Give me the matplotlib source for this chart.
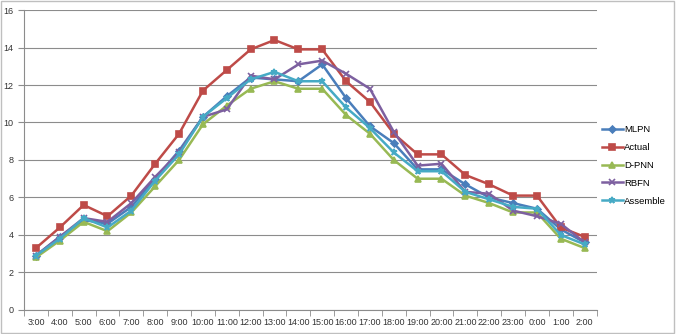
import matplotlib.pyplot as plt
import numpy as np

plt.rcParams['font.family'] = ['Liberation Sans', 'DejaVu Sans']

# Datos
horas = ['3:00', '4:00', '5:00', '6:00', '7:00', '8:00', '9:00', '10:00', '11:00',
         '12:00', '13:00', '14:00', '15:00', '16:00', '17:00', '18:00', '19:00',
         '20:00', '21:00', '22:00', '23:00', '0:00', '1:00', '2:00']

mlpn     = [2.9, 3.9, 4.8, 4.6, 5.5, 7.0, 8.5, 10.3, 11.4, 12.4, 12.3, 12.2,
            13.1, 11.3, 9.8, 8.9, 7.5, 7.5, 6.7, 6.0, 5.7, 5.4, 4.3, 3.6]
actual   = [3.3, 4.4, 5.6, 5.0, 6.1, 7.8, 9.4, 11.7, 12.8, 13.9, 14.4, 13.9,
            13.9, 12.2, 11.1, 9.4, 8.3, 8.3, 7.2, 6.7, 6.1, 6.1, 4.4, 3.9]
dpnn     = [2.8, 3.7, 4.7, 4.2, 5.2, 6.6, 8.0, 9.9, 10.9, 11.8, 12.2, 11.8,
            11.8, 10.4, 9.4, 8.0, 7.0, 7.0, 6.1, 5.7, 5.2, 5.2, 3.8, 3.3]
rbfn     = [2.9, 3.9, 4.9, 4.7, 5.7, 7.1, 8.4, 10.3, 10.7, 12.5, 12.3, 13.1,
            13.3, 12.6, 11.8, 9.5, 7.7, 7.8, 6.3, 6.2, 5.3, 5.0, 4.6, 3.6]
assemble = [2.9, 3.8, 4.9, 4.4, 5.3, 6.9, 8.3, 10.3, 11.3, 12.3, 12.7, 12.2,
            12.2, 10.8, 9.7, 8.4, 7.4, 7.4, 6.3, 5.9, 5.5, 5.4, 4.0, 3.5]

series = [
    ('MLPN',     mlpn,     '#4A7EBB', 'D', 3.5),
    ('Actual',   actual,   '#BE4B48', 's', 5),
    ('D-PNN',    dpnn,     '#98B954', '^', 5),
    ('RBFN',     rbfn,     '#7D60A0', 'x', 5),
    ('Assemble', assemble, '#46AAC5', '*', 5),
]

fig = plt.figure(figsize=(6.76, 3.34), dpi=100, facecolor='white')
ax = fig.add_axes([0.0355, 0.072, 0.847, 0.898])

x = np.arange(len(horas))
for nombre, vals, cor, mk, ms in series:
    ax.plot(x, vals, color=cor, linewidth=1.8, marker=mk, markersize=ms,
            markeredgecolor=cor, markeredgewidth=1.2, label=nombre)

ax.set_xlim(-0.5, len(horas) - 0.5)
ax.set_ylim(0, 16)
ax.set_yticks(range(0, 17, 2))
ax.yaxis.grid(True, color='#8c8c8c', linewidth=0.8)
ax.set_axisbelow(True)

ax.set_xticks(x)
ax.set_xticklabels(horas, fontsize=6.5, color='#333333')
ax.set_xticks(np.arange(-0.5, len(horas), 1), minor=True)
ax.tick_params(axis='x', which='major', length=0, pad=6)
ax.tick_params(axis='x', which='minor', length=4, color='#8c8c8c')
ax.tick_params(axis='y', labelsize=6.5, colors='#333333', length=4)
ax.tick_params(axis='y', color='#8c8c8c')

for s in ['top', 'right']:
    ax.spines[s].set_visible(False)
ax.spines['left'].set_color('#8c8c8c')
ax.spines['bottom'].set_color('#8c8c8c')

fig.legend(loc='center left', bbox_to_anchor=(0.885, 0.505), frameon=False,
           fontsize=6.8, handlelength=2.2, handletextpad=0.1, labelspacing=0.95,
           borderaxespad=0)

# borde del gráfico
fig.patches.append(plt.Rectangle((0.002, 0.004), 0.995, 0.992, transform=fig.transFigure,
                                 fill=False, edgecolor='#bfbfbf', linewidth=1))

plt.savefig('out.png', dpi=100, facecolor='white')
